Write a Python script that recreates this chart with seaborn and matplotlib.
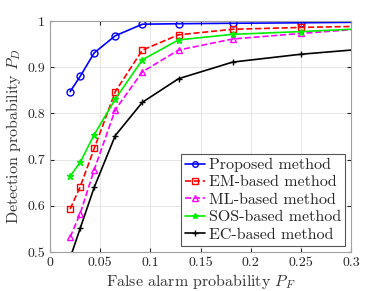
import matplotlib
matplotlib.use("Agg")
import matplotlib.pyplot as plt
import seaborn as sns

# False alarm probability (last point lies past the visible x range)
pf = [0.02, 0.03, 0.044, 0.065, 0.092, 0.128, 0.182, 0.25, 0.35]

proposed = [0.847, 0.880, 0.931, 0.968, 0.993, 0.994, 0.995, 0.996, 0.998]
em_based = [0.593, 0.641, 0.724, 0.847, 0.937, 0.970, 0.982, 0.986, 0.990]
ml_based = [0.532, 0.583, 0.678, 0.808, 0.890, 0.937, 0.961, 0.973, 0.989]
sos_based = [0.664, 0.694, 0.754, 0.831, 0.916, 0.959, 0.971, 0.977, 0.987]
ec_based = [0.487, 0.551, 0.640, 0.752, 0.824, 0.875, 0.911, 0.928, 0.946]

labels = ["Proposed method", "EM-based method", "ML-based method",
          "SOS-based method", "EC-based method"]

sns.set_style("ticks")
plt.rcParams["font.family"] = ["cmr10", "DejaVu Serif"]
plt.rcParams["mathtext.fontset"] = "cm"
plt.rcParams["axes.formatter.use_mathtext"] = True

fig = plt.figure(figsize=(3.88, 2.91), dpi=100)
ax = fig.add_axes([0.129, 0.134, 0.776, 0.794])

styles = [
    dict(color="#0000ff", marker="o", linestyle="-", mfc="none"),
    dict(color="#ff0000", marker="s", linestyle="--", mfc="none"),
    dict(color="#ff00ff", marker="^", linestyle="--", mfc="none"),
    dict(color="#00ee00", marker="*", linestyle="-", mfc="#00ee00"),
    dict(color="black", marker="+", linestyle="-", mfc="none"),
]
series = [proposed, em_based, ml_based, sos_based, ec_based]

for vals, lab, st in zip(series, labels, styles):
    sns.lineplot(x=pf, y=vals, ax=ax, label=lab, color=st["color"],
                 marker=st["marker"], linestyle=st["linestyle"],
                 markerfacecolor=st["mfc"], markeredgecolor=st["color"],
                 markersize=5, markeredgewidth=1.0, linewidth=1.2,
                 sort=False, estimator=None)

ax.set_xlim(0, 0.3)
ax.set_ylim(0.5, 1.0)
ax.set_xticks([0, 0.05, 0.1, 0.15, 0.2, 0.25, 0.3])
ax.set_xticklabels(["0", "0.05", "0.1", "0.15", "0.2", "0.25", "0.3"])
ax.set_yticks([0.5, 0.6, 0.7, 0.8, 0.9, 1.0])
ax.set_yticklabels(["0.5", "0.6", "0.7", "0.8", "0.9", "1"])
ax.tick_params(direction="in", labelsize=10, colors="#262626", length=3,
               top=True, right=True)
ax.grid(True, color="#e6e6e6", linewidth=0.7)
for sp in ax.spines.values():
    sp.set_color("#a0a0a0")
    sp.set_linewidth(0.8)

ax.set_xlabel(r"False alarm probability $P_F$", fontsize=11.5, color="#333333", labelpad=2)
ax.set_ylabel(r"Detection probability $P_D$", fontsize=11.5, color="#333333", labelpad=3)

leg = ax.legend(loc="lower right", fontsize=11.5, handlelength=1.25,
                handletextpad=0.25, borderpad=0.25, labelspacing=0.2,
                borderaxespad=0.4, fancybox=False, framealpha=1,
                edgecolor="#555555", markerscale=0.8)
leg.get_frame().set_linewidth(0.8)

fig.savefig("out.png", dpi=100)
